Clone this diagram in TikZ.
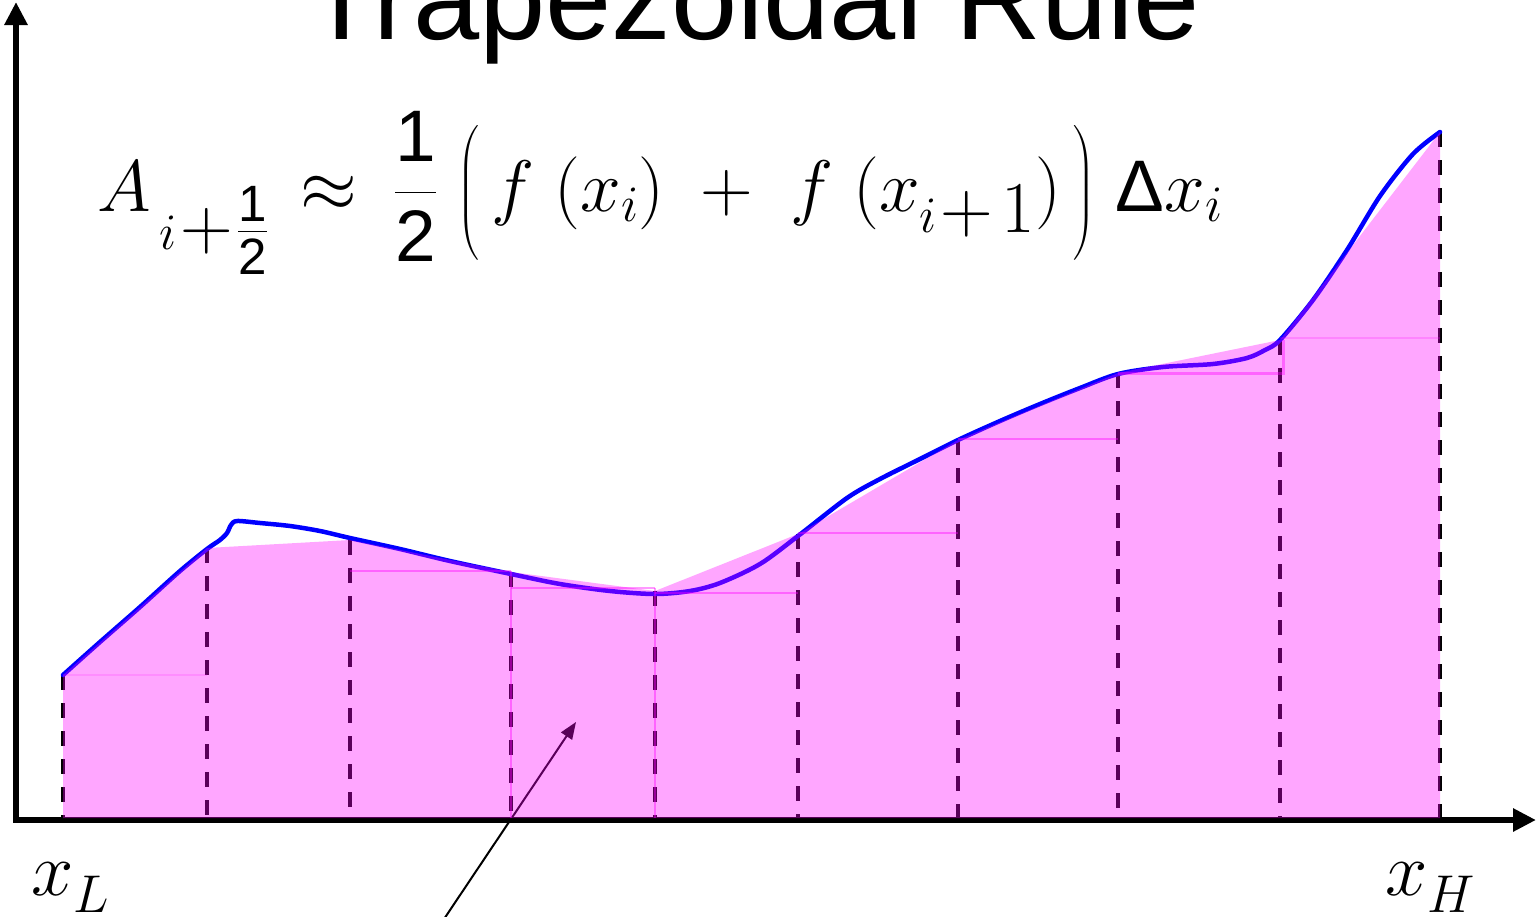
\RequirePackage{fix-cm}
\documentclass[tikz,border=0pt]{standalone}
\usepackage{amsmath}
\usepackage{fontspec}
\newfontfamily\arialf{Liberation Sans}
\usetikzlibrary{arrows.meta}
\newcommand\sdig[1]{\text{\arialf #1}}
\definecolor{mag}{RGB}{255,0,255}
\definecolor{curveblue}{RGB}{0,0,255}
\begin{document}
\begin{tikzpicture}[x=1pt,y=-1pt,
  axis/.style={line width=6pt, line cap=rect, -{Triangle[length=23pt,width=22pt]}},
  guide/.style={line width=4.5pt, dash pattern=on 15pt off 13pt},
  curve/.style={curveblue, line width=4.5pt, line join=round, line cap=round},
  area/.style={fill=mag, fill opacity=0.35},
  rectedge/.style={draw=mag, draw opacity=0.4, line width=1.5pt},
  pointer/.style={line width=2pt, -{Triangle[length=17pt,width=13pt]}},
  mathlabel/.style={inner sep=0pt, font=\fontsize{76}{90}\selectfont}]
\useasboundingbox (0,0) rectangle (1537,916);
\fill[white] (0,0) rectangle (1537,916);

% title
\node[anchor=base west, inner sep=0pt, font=\arialf\fontsize{119}{120}\selectfont] (title) at (305,39) {Trapezoidal Rule};

% axes
\coordinate (O) at (16,820);
\coordinate (ytop) at (16,2);
\coordinate (xend) at (1536,820);
\draw[axis] (O) -- (ytop);
\draw[axis] (O) -- (xend);

% sample points on the curve
\coordinate (p0) at (63,675);
\coordinate (p1) at (207,548);
\coordinate (p2) at (350,540);
\coordinate (p3) at (511,572);
\coordinate (p4) at (655,591);
\coordinate (p5) at (798,534);
\coordinate (p6) at (958,440);
\coordinate (p7) at (1118,373);
\coordinate (p8) at (1280,340);
\coordinate (p9) at (1440,132);

% dashed verticals
\foreach \i in {0,...,9} {\draw[guide] (p\i) -- (p\i |- O);}

% function curve
\draw[curve] plot[smooth, tension=0.5] coordinates {
 (63,675) (100,642) (140,607) (180,571) (207,549) (220,540) (227,533) (231,525) (237,521)
 (260,523) (290,526) (320,531) (350,538) (400,549) (450,561) (511,574) (560,584)
 (610,591) (655,594) (690,591) (720,583) (760,564) (798,536) (847,498) (880,479)
 (920,459) (958,440) (1000,421) (1040,404) (1080,388) (1118,374) (1163,367)
 (1213,364) (1247,358) (1265,350) (1280,340) (1313,300) (1347,250) (1380,196)
 (1413,154) (1440,132)};

% pointer arrow
\coordinate (ptail) at (438,928);
\coordinate (ptip) at (576,722);
\draw[pointer] (ptail) -- (ptip);

% trapezoid area
\fill[area] (63,818) -- (p0) -- (p1) -- (p2) -- (p3) -- (p4) -- (p5) -- (p6) -- (p7) -- (p8) -- (p9) -- (1440,818) -- cycle;

% faint rectangle edges
\draw[rectedge, draw opacity=0.15] (63,675) -- (207,675);
\draw[rectedge] (350,571) -- (511,571);
\draw[rectedge] (511,588) -- (655,588);
\draw[rectedge] (655,593) -- (798,593);
\draw[rectedge] (798,533) -- (958,533);
\draw[rectedge] (958,439) -- (1118,439);
\draw[rectedge, line width=3pt] (1118,373) -- (1283,373) -- (1283,340);
\draw[rectedge, draw opacity=0.2] (1280,338) -- (1440,338);
\draw[rectedge] (511,571) -- (511,818);
\draw[rectedge] (655,588) -- (655,818);

% formula
\node[anchor=base west, inner sep=0pt, font=\fontsize{73}{88}\selectfont] (formula) at (97,211)
 {$A_{\mkern3mu i{\textstyle\mkern1mu+\mkern1mu}\genfrac{}{}{}{1}{\sdig{1}}{\sdig{2}}}\mkern3mu\approx\mkern4mu\dfrac{\sdig{1}}{\sdig{2}}\;\Big(\,f\;(x_i)\;+\;f\;(x_{i{\textstyle\mkern1mu+\mkern2mu 1}})\,\Big)\;\sdig{Δ}x_i$};

% axis end labels
\node[mathlabel, anchor=base west] (xL) at (31,895) {$x_{\lower6pt\hbox{$\scriptstyle L$}}$};
\node[mathlabel, anchor=base west] (xH) at (1385,895) {$x_{\lower6pt\hbox{$\scriptstyle H$}}$};
\end{tikzpicture}
\end{document}
